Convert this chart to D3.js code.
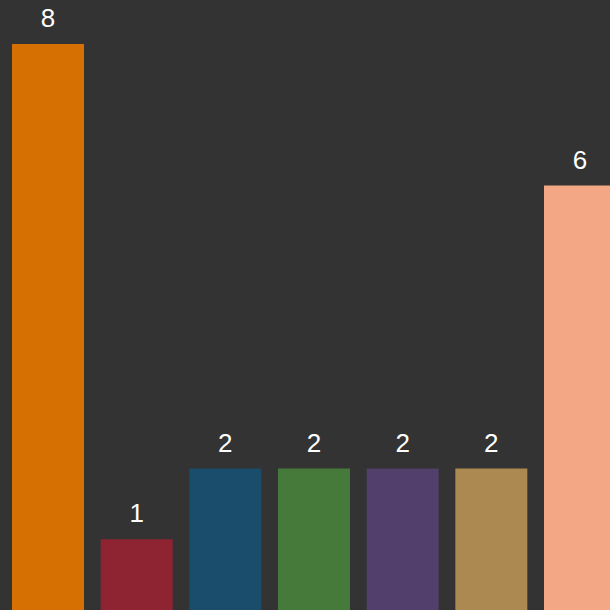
<!DOCTYPE html>
<html><head><meta charset="utf-8">
<script src="https://cdn.jsdelivr.net/npm/d3@7"></script>
<style>html,body{margin:0;padding:0;background:#333333;overflow:hidden;}</style>
</head><body>
<svg id="chart" width="610" height="610"></svg>
<script>
const categories = ["A","B","C","D","E","F","G"];
const values = [8,1,2,2,2,2,6];
const colors = ["#D77002","#8E2331","#1A4D6C","#467A3B","#533F6B","#AB8951","#F4A785"];

const W = 610, H = 610;
const svg = d3.select("#chart");
svg.append("rect").attr("width",W).attr("height",H).attr("fill","#333333");

const x = d3.scaleBand().domain(categories).range([3.67, 624.33]).paddingInner(0.188).paddingOuter(0.094);
const y = d3.scaleLinear().domain([0,8]).range([H, 44]);

svg.selectAll("rect.bar").data(values).enter().append("rect")
  .attr("class","bar")
  .attr("x",(d,i)=>x(categories[i]))
  .attr("y",d=>y(d))
  .attr("width",x.bandwidth())
  .attr("height",d=>H-y(d))
  .attr("fill",(d,i)=>colors[i]);

svg.selectAll("text.lbl").data(values).enter().append("text")
  .attr("class","lbl")
  .attr("x",(d,i)=>x(categories[i])+x.bandwidth()/2)
  .attr("y",d=>y(d)-17)
  .attr("text-anchor","middle")
  .attr("fill","#ffffff")
  .style("font-family","'Liberation Sans', Arial, sans-serif")
  .style("font-size","26px")
  .text(d=>d);
</script>
</body></html>
